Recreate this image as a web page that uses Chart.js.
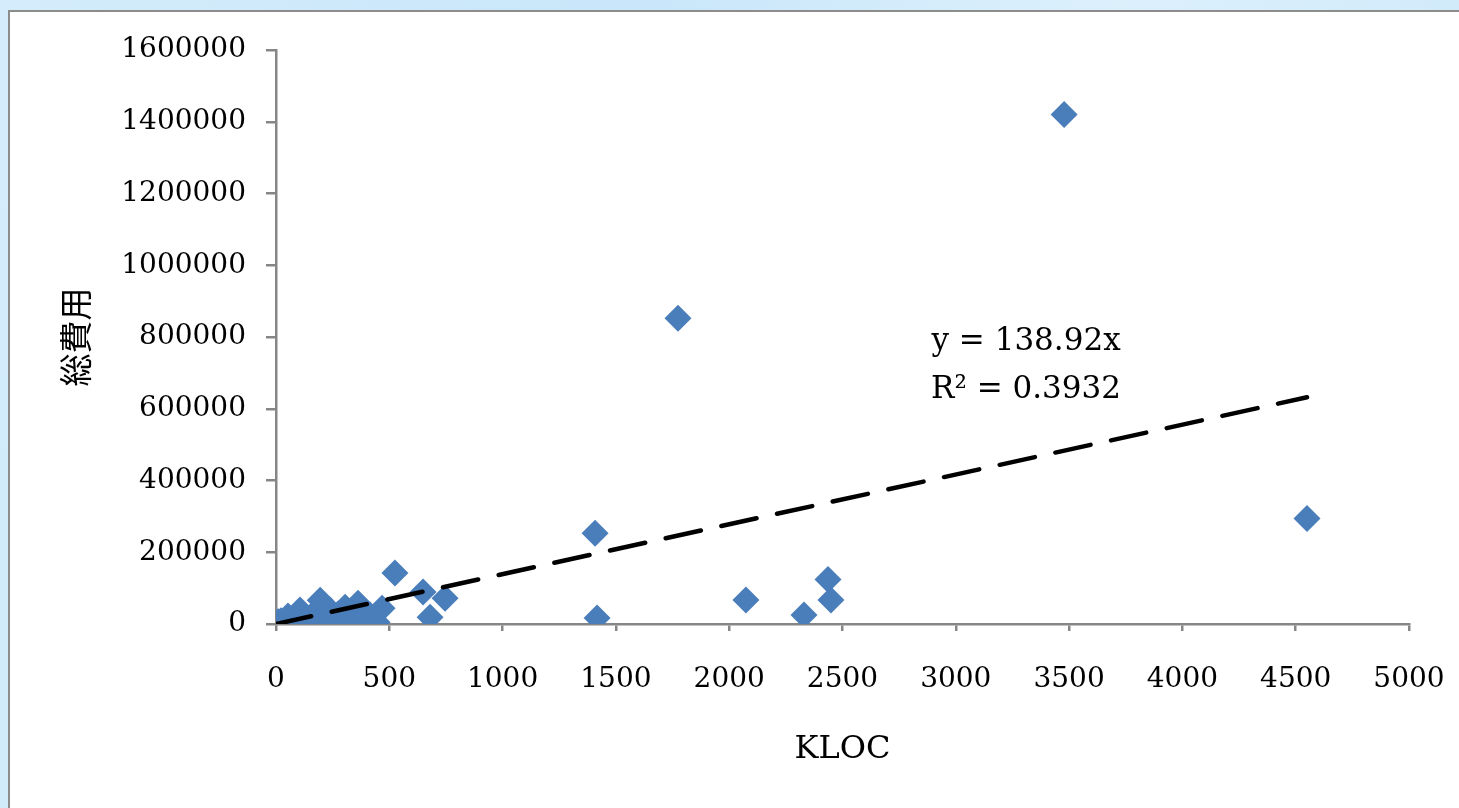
<!DOCTYPE html>
<html>
<head>
<meta charset="utf-8">
<script src="https://cdn.jsdelivr.net/npm/chart.js@4.4.1/dist/chart.umd.min.js"></script>
<style>
	html, body {
		margin: 0;
		padding: 0;
		width: 1459px;
		height: 808px;
		overflow: hidden;
		background: linear-gradient(100deg, #d4ecfb 0%, #c9e6fa 40%, #dcf0fc 70%, #cde8fa 100%);
	}
	#panel {
		position: absolute;
		left: 8px;
		top: 10px;
		width: 1470px;
		height: 820px;
		background: #ffffff;
		border-left: 2px solid #8c8c8c;
		border-top: 2px solid #8c8c8c;
	}
	#chart {
		position: absolute;
		left: 0;
		top: 0;
	}
</style>
</head>
<body>
<div id="panel"></div>
<canvas id="chart" width="1459" height="808"></canvas>
<script>
	// KLOC vs total cost, one entry per project
	const kloc = [
		3478, 1774, 4550, 1408, 1417, 2074, 2330, 2436, 2449,
		525, 649, 746, 680, 468,
		2, 5, 10, 15, 22, 28, 35, 40, 48, 53, 60, 62, 75, 85, 97, 106, 110,
		128, 140, 150, 172, 180, 195, 205, 216, 238, 252, 274, 290, 305, 310,
		327, 349, 362, 384, 415, 446,
	]
	const cost = [
		1420000, 852000, 294000, 253000, 17000, 67000, 25000, 124000, 67000,
		142000, 89000, 72000, 19000, 44000,
		3000, 1000, 6000, 2500, 9000, 4000, 1500, 12000, 6000, 22000, 3000, 14000, 9000, 2000, 30000, 39000, 6000,
		19000, 11000, 3000, 33000, 8000, 66000, 22000, 13000, 39000, 16000, 28000, 5000, 47000, 36000,
		8000, 44000, 58000, 11000, 25000, 5000,
	]

	// linear fit through the origin
	const slope = 138.92
	const rSquared = "0.3932"

	const xTicks = { min: 0, max: 5000, step: 500 }
	const yTicks = { min: 0, max: 1600000, step: 200000 }

	const points = kloc.map((k, i) => ({ x: k, y: cost[i] }))
	const maxKloc = Math.max(...kloc)
	const trend = [
		{ x: 0, y: 0 },
		{ x: maxKloc, y: slope * maxKloc },
	]

	const serif = "'DejaVu Serif', 'Liberation Serif', serif"
	const axisGrey = "#868686"

	// writes the fit equation next to the trend line
	const equationLabel = {
		id: "equationLabel",
		afterDatasetsDraw(chart) {
			const { ctx, scales } = chart
			const x = scales.x.getPixelForValue(3310)
			ctx.save()
			ctx.font = "31px " + serif
			ctx.fillStyle = "#000"
			ctx.textAlign = "center"
			ctx.textBaseline = "middle"
			ctx.fillText("y = " + slope + "x", x, scales.y.getPixelForValue(786000))
			ctx.fillText("R² = " + rSquared, x, scales.y.getPixelForValue(652000))
			ctx.restore()
		},
	}

	new Chart(document.getElementById("chart"), {
		type: "scatter",
		data: {
			datasets: [
				{
					label: "総費用",
					data: points,
					pointStyle: "rectRot",
					pointRadius: 13.5,
					pointHoverRadius: 13.5,
					backgroundColor: "#4a7ebb",
					borderColor: "#4a7ebb",
					borderWidth: 0,
					order: 2,
				},
				{
					label: "trend",
					type: "line",
					data: trend,
					showLine: true,
					pointRadius: 0,
					borderColor: "#000",
					borderWidth: 4.5,
					borderDash: [36, 21],
					borderCapStyle: "round",
					fill: false,
					order: 1,
				},
			],
		},
		options: {
			responsive: false,
			animation: false,
			events: [],
			layout: {
				padding: { top: 50, right: 50, left: 0, bottom: 0 },
			},
			scales: {
				x: {
					type: "linear",
					min: xTicks.min,
					max: xTicks.max,
					afterFit(scale) {
						scale.height = 184
						scale.paddingLeft = 0
						scale.paddingRight = 0
					},
					ticks: {
						stepSize: xTicks.step,
						color: "#000",
						padding: 32,
						maxRotation: 0,
						font: { family: serif, size: 28 },
						callback: (v) => String(v),
					},
					grid: {
						drawOnChartArea: false,
						drawTicks: true,
						tickLength: 7,
						color: axisGrey,
						lineWidth: 2.5,
					},
					border: { color: axisGrey, width: 2.5 },
					title: {
						display: true,
						text: "KLOC",
						color: "#000",
						font: { family: serif, size: 32 },
						padding: { top: 0, bottom: 39 },
					},
				},
				y: {
					type: "linear",
					min: yTicks.min,
					max: yTicks.max,
					afterFit(scale) {
						scale.width = 276
						scale.paddingTop = 0
						scale.paddingBottom = 0
					},
					ticks: {
						stepSize: yTicks.step,
						color: "#000",
						padding: 20,
						font: { family: serif, size: 28 },
						callback: (v) => String(v),
					},
					grid: {
						drawOnChartArea: false,
						drawTicks: true,
						tickLength: 10,
						color: axisGrey,
						lineWidth: 2.5,
					},
					border: { color: axisGrey, width: 2.5 },
					title: {
						display: true,
						text: "総費用",
						color: "#000",
						font: { family: "'Noto Sans CJK JP', sans-serif", size: 33 },
						padding: { top: 56, bottom: 0 },
					},
				},
			},
			plugins: {
				legend: { display: false },
				tooltip: { enabled: false },
			},
		},
		plugins: [equationLabel],
	})
</script>
</body>
</html>
